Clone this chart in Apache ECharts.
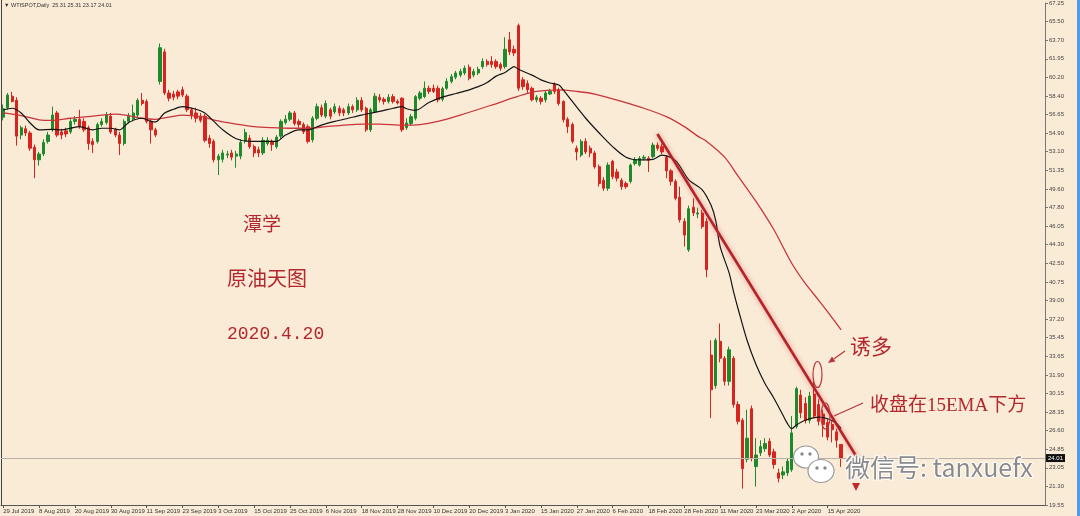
<!DOCTYPE html>
<html><head><meta charset="utf-8">
<script src="https://cdn.jsdelivr.net/npm/echarts/dist/echarts.min.js"></script>
<style>html,body{margin:0;padding:0;background:#faebd7;}#c{width:1080px;height:516px;}</style>
</head><body><div id="c"></div>
<script>
const header = '▼ WTISPOT,Daily  25.31 25.31 23.17 24.01';
const tickDates = ['29 Jul 2019','8 Aug 2019','20 Aug 2019','30 Aug 2019','11 Sep 2019','23 Sep 2019','3 Oct 2019','15 Oct 2019','25 Oct 2019','6 Nov 2019','18 Nov 2019','28 Nov 2019','10 Dec 2019','20 Dec 2019','3 Jan 2020','15 Jan 2020','27 Jan 2020','6 Feb 2020','18 Feb 2020','28 Feb 2020','11 Mar 2020','23 Mar 2020','2 Apr 2020','15 Apr 2020'];
const priceTicks = ['19.55','21.30','23.05','24.85','26.60','28.35','30.15','31.90','33.65','35.45','37.20','39.00','40.75','42.50','44.30','46.05','47.80','49.60','51.35','53.10','54.90','56.65','58.40','60.20','61.95','63.70','65.50','67.25'];
const opens = [56.4,57.3,58.4,58.0,54.7,55.3,54.9,53.55,52.35,52.9,
54.1,55.2,56.8,55.0,55.1,55.0,56.0,56.2,56.0,55.4,
54.1,54.1,55.7,55.9,56.5,55.2,54.7,53.9,56.0,56.2,
56.6,58.0,57.9,56.0,55.2,59.8,62.6,58.7,58.6,58.8,
59.0,58.4,57.1,56.8,56.5,56.5,54.4,54.1,52.35,52.4,
52.8,53.0,52.7,52.7,54.1,54.4,53.6,53.3,53.0,53.9,
54.1,53.6,54.6,55.9,56.2,56.8,56.0,55.7,55.5,54.25,
56.3,57.3,56.5,57.1,56.9,57.25,57.1,56.8,57.4,57.1,
58.0,57.25,55.2,56.9,58.3,58.1,57.9,58.35,57.9,58.2,
55.4,55.8,56.3,58.2,58.35,59.15,59.15,59.15,58.1,59.15,
59.8,60.2,60.4,60.6,61.15,60.4,60.6,61.2,61.7,61.7,
61.7,61.4,61.2,63.75,62.85,65.1,59.95,59.6,59.15,58.05,
58.2,58.05,58.6,59.5,59.0,57.9,56.2,55.7,53.45,52.8,
54.1,53.45,53.0,51.7,50.4,49.65,52.2,51.2,50.4,50.1,
50.3,52.0,51.85,52.5,52.5,52.65,53.75,53.6,52.6,51.3,
50.3,48.8,46.5,43.8,47.85,47.2,47.3,46.5,33.8,30.9,
35.1,33.5,31.3,33.5,29.1,27.6,23.9,28.7,23.2,24.5,
24.9,25.6,24.6,22.6,22.4,22.6,22.9,27.0,30.0,29.2,
27.6,30.1,29.1,28.2,27.4,27.2,26.5,25.31];
const highs = [57.6,58.7,58.8,58.3,55.6,55.6,55.1,53.8,53.1,54.3,
55.0,57.4,57.0,55.3,55.4,56.2,56.5,57.1,56.3,55.6,
54.4,55.9,56.3,56.9,56.8,55.4,55.0,56.2,56.8,57.6,
58.2,58.7,58.1,56.2,55.4,63.4,62.9,59.0,58.9,59.0,
59.3,58.6,57.3,57.3,56.8,56.7,54.7,54.3,52.9,53.3,
53.2,53.3,53.2,54.3,55.3,54.7,53.8,53.6,54.5,54.5,
54.3,54.7,56.2,56.6,57.0,57.0,56.2,55.9,55.7,56.5,
57.7,57.6,58.0,57.3,57.7,57.5,57.3,57.7,57.6,58.3,
58.3,57.4,57.3,58.7,58.6,58.3,58.6,58.6,58.1,58.3,
56.3,56.7,58.5,58.9,59.8,59.4,59.5,59.4,59.3,60.1,
60.5,60.8,61.0,61.3,61.4,61.0,61.2,62.0,61.9,62.2,
61.9,61.6,64.0,64.5,63.2,65.3,60.2,59.9,59.3,58.5,
58.4,58.9,59.1,59.7,59.2,58.0,56.4,55.9,53.7,54.3,
54.4,53.7,53.2,51.9,50.7,52.1,52.35,51.5,50.6,50.3,
52.0,52.6,52.7,52.8,52.7,54.0,54.0,53.9,52.8,51.5,
50.5,49.8,46.8,48.0,48.7,47.8,47.6,46.8,35.2,35.4,
36.8,33.7,34.6,33.7,29.4,27.8,28.6,29.0,25.9,25.7,
25.9,25.9,24.9,23.0,23.2,24.0,28.0,30.8,30.5,29.8,
30.3,31.6,29.6,28.6,27.7,27.5,26.8,25.31];
const lows = [56.1,57.1,57.8,53.7,54.3,54.6,53.2,50.6,51.8,52.7,
53.9,55.0,54.5,54.3,54.5,54.8,55.7,55.3,55.0,53.3,
53.0,53.9,55.5,55.7,54.8,54.5,52.8,53.7,55.8,56.0,
56.4,57.5,55.8,53.9,54.5,59.5,58.5,57.9,58.0,58.1,
58.3,56.9,56.2,55.9,55.9,54.0,53.5,52.1,50.9,52.1,
52.5,52.3,51.6,52.4,53.9,53.4,52.6,52.6,52.8,53.7,
53.2,53.4,54.3,55.7,56.0,55.6,55.4,54.8,53.9,54.0,
56.1,56.4,56.3,56.2,56.7,56.5,56.5,56.6,56.8,56.9,
56.9,55.0,55.0,56.8,57.8,57.6,57.7,57.7,57.6,55.0,
55.2,55.6,56.1,58.0,58.2,58.6,58.7,57.8,57.9,59.0,
59.6,60.0,60.2,60.4,59.9,60.2,60.4,61.0,61.2,61.1,
61.0,60.8,61.0,62.3,62.2,58.9,59.0,58.7,57.9,57.8,
57.6,57.8,58.5,58.6,57.5,55.9,54.9,53.9,52.3,52.6,
52.9,52.6,51.5,49.8,49.4,49.4,50.5,50.3,49.5,49.6,
50.1,51.8,51.7,52.3,51.2,52.5,53.2,52.9,50.6,49.9,
48.5,46.4,44.1,43.6,47.0,46.8,45.8,41.2,27.8,30.6,
33.1,30.9,30.9,28.8,27.2,21.1,23.6,23.7,21.3,24.2,
24.6,24.1,23.0,21.7,22.0,22.3,22.7,26.8,27.8,27.3,
27.3,27.8,27.1,26.0,25.7,25.5,25.0,23.17];
const closes = [57.2,58.5,57.9,54.6,55.4,54.9,53.45,52.35,52.9,54.0,
54.7,56.6,54.7,54.7,54.8,56.0,56.2,55.5,55.2,53.9,
53.8,55.7,56.0,56.6,55.0,54.7,53.9,56.0,56.5,56.8,
58.0,57.7,56.0,55.2,54.7,63.0,58.7,58.2,58.3,58.4,
58.5,57.1,56.6,56.3,56.1,54.2,53.9,52.35,52.7,53.0,
52.9,52.6,52.9,54.0,54.95,53.6,53.0,53.0,54.2,54.2,
53.8,54.5,56.0,56.2,56.8,55.8,55.7,55.0,54.1,56.3,
57.4,56.6,57.7,56.5,57.4,56.8,56.8,57.4,57.1,58.0,
57.1,55.2,57.1,58.4,58.05,57.9,58.3,57.9,57.75,55.2,
55.85,56.45,58.35,58.7,59.15,58.85,58.85,58.05,59.1,59.8,
60.25,60.6,60.75,61.05,60.1,60.75,60.95,61.7,61.4,61.4,
61.2,61.05,62.85,62.6,62.5,59.15,59.3,59.0,58.05,58.3,
57.9,58.7,58.85,58.85,57.7,56.15,55.5,54.1,53.1,54.1,
53.1,53.0,51.7,50.1,49.65,51.85,50.75,50.6,49.8,49.8,
51.85,52.35,52.5,52.6,52.3,53.75,53.45,53.1,51.3,50.3,
48.7,46.65,45.2,47.7,47.3,47.3,46.0,41.9,30.5,35.2,
33.5,31.3,34.3,29.1,27.5,23.0,25.9,24.0,24.3,25.1,
25.4,24.3,23.4,22.1,22.7,23.7,26.4,30.6,28.3,27.6,
29.9,28.0,27.5,27.2,26.0,26.7,25.7,24.01];
// 15 EMA (black): [bar index, price]
const emaFast = [[0,57.1],[2,57.25],[4,56.8],[6,55.85],[8,55.2],[11,55.25],[13,55.2],[15,55.35],[17,55.5],[20,55.2],[22,55.35],[24,55.35],[26,55.2],[28,55.9],[31,56.3],[33,56.0],[34,55.95],[36,56.8],[38,57.15],[40,57.4],[43,57.15],[45,56.8],[47,56.0],[49,55.2],[52,54.35],[55,54.1],[58,54.1],[61,54.1],[63,54.7],[66,55.2],[68,55.2],[71,55.65],[74,56.0],[77,56.3],[80,56.6],[84,56.95],[87,57.25],[89,57.4],[90,57.2],[92,57.05],[95,57.8],[98,58.3],[101,58.65],[104,59.0],[106,59.3],[108,59.7],[110,60.3],[112,60.65],[113,60.95],[114,61.2],[115,60.95],[118,60.4],[120,59.95],[122,59.65],[124,59.45],[125,59.0],[127,57.9],[130,56.3],[133,54.9],[136,53.6],[139,52.6],[142,52.35],[145,52.4],[147,52.8],[150,52.3],[153,50.45],[156,49.5],[158,48.0],[159,46.6],[160,44.1],[162,41.6],[163,39.8],[164,38.2],[166,35.2],[168,32.9],[170,31.1],[172,29.7],[174,28.1],[175,27.3],[176,26.8],[177,27.15],[179,27.6],[182,27.9],[184,27.75],[186,27.3],[187,26.8]];
// long EMA (red)
const emaSlow = [[0,56.8],[4,56.55],[8,56.15],[11,56.1],[15,56.3],[19,56.45],[22,56.6],[25,56.7],[28,56.55],[31,56.3],[34,56.2],[37,56.4],[40,56.6],[44,56.45],[48,56.05],[52,55.75],[56,55.5],[60,55.4],[64,55.35],[68,55.35],[72,55.5],[76,55.65],[80,55.75],[84,55.75],[89,55.65],[93,55.7],[97,56.0],[102,56.6],[109,57.55],[115,58.4],[119,58.85],[124,59.0],[128,58.85],[132,58.6],[138,57.9],[143,57.25],[148,56.45],[152,55.5],[155,54.6],[157,54.1],[161,52.6],[164,50.8],[168,48.4],[172,45.7],[176,42.5],[179,40.6],[182,39.0],[184,37.9],[187,36.2]];
const trendLine = [[146,54.8],[191,23.75]];
const lastPrice = 24.01;

const N = 233;
const cats = Array.from({length:N},(_,i)=>String(i));
const candle = opens.map((o,i)=>[o, closes[i], lows[i], highs[i]]);
const yMin = 19.55, yMax = 67.25, yStep = (yMax-yMin)/27;
const red = '#b3282e';
const serif = '"Liberation Serif","Noto Sans CJK SC",serif';
const showTick = (i)=> i%8===0 && i<=184;

function arrow(x1,y1,x2,y2,col){
  const dx=x2-x1, dy=y2-y1, L=Math.hypot(dx,dy), ux=dx/L, uy=dy/L;
  const bx=x2-ux*7, by=y2-uy*7, px=-uy*3, py=ux*3;
  return [
    {type:'line',shape:{x1:x1,y1:y1,x2:bx,y2:by},style:{stroke:col,lineWidth:1.3}},
    {type:'polygon',shape:{points:[[x2,y2],[bx+px,by+py],[bx-px,by-py]]},style:{fill:col}}
  ];
}

const chart = echarts.init(document.getElementById('c'));
chart.setOption({
  animation:false,
  backgroundColor:'#faebd7',
  grid:{left:1,right:35,top:3,bottom:11},
  xAxis:{type:'category',data:cats,boundaryGap:true,
    axisLine:{lineStyle:{color:'#555',width:1}},
    axisTick:{show:true,alignWithLabel:true,interval:showTick,length:3,lineStyle:{color:'#555'}},
    axisLabel:{interval:showTick,formatter:(v,i)=>tickDates[i/8]||'',fontSize:6,color:'#333',align:'left',margin:3,fontFamily:'Liberation Sans'},
    splitLine:{show:false}},
  yAxis:{type:'value',position:'right',min:yMin,max:yMax,interval:yStep,
    axisLine:{show:true,lineStyle:{color:'#777'}},
    axisTick:{show:true,length:3,lineStyle:{color:'#777'}},
    axisLabel:{fontSize:6,color:'#444',margin:4,fontFamily:'Liberation Sans',formatter:v=>priceTicks[Math.round((v-yMin)/yStep)]||''},
    splitLine:{show:false}},
  series:[
    {type:'candlestick',data:candle,barWidth:'62%',
      itemStyle:{color:'#1f8a2c',color0:'#d8241f',borderColor:'#1f8a2c',borderColor0:'#d8241f',borderWidth:1},
      markLine:{silent:true,symbol:['none','none'],data:[{yAxis:lastPrice}],
        lineStyle:{color:'#b9b2a8',width:1,type:'solid'},
        label:{position:'end',formatter:()=>lastPrice.toFixed(2),backgroundColor:'#111',color:'#fff',fontSize:6,padding:[1,2],distance:1}}},
    {type:'line',data:emaSlow,smooth:0.3,symbol:'none',lineStyle:{color:'#c8363b',width:1.3},z:3},
    {type:'line',data:emaFast,smooth:0.3,symbol:'none',lineStyle:{color:'#151515',width:1.2},z:4},
    {type:'line',data:trendLine,symbol:'none',lineStyle:{color:'#b3242a',width:2.6,shadowColor:'rgba(210,60,60,0.55)',shadowBlur:5},z:5}
  ],
  graphic:[
    {type:'rect',shape:{x:1077,y:0,width:3,height:516},style:{fill:'#4f9de3'}},
    {type:'line',shape:{x1:1.5,y1:0,x2:1.5,y2:505},style:{stroke:'#444',lineWidth:1}},
    {type:'text',x:4,y:5,style:{text:header,fill:'#333',font:'5.5px "Liberation Sans"',textVerticalAlign:'middle',verticalAlign:'middle'}},
    {type:'text',x:243,y:226,style:{text:'潭学',fill:red,font:'19px '+serif,textVerticalAlign:'middle',verticalAlign:'middle'}},
    {type:'text',x:227,y:281,style:{text:'原油天图',fill:red,font:'20px '+serif,textVerticalAlign:'middle',verticalAlign:'middle'}},
    {type:'text',x:227,y:334,style:{text:'2020.4.20',fill:red,font:'18px "Liberation Mono"',textVerticalAlign:'middle',verticalAlign:'middle'}},
    {type:'text',x:850,y:348,style:{text:'诱多',fill:red,font:'21px '+serif,textVerticalAlign:'middle',verticalAlign:'middle'}},
    {type:'text',x:870,y:406,style:{text:'收盘在15EMA下方',fill:red,font:'19px '+serif,textVerticalAlign:'middle',verticalAlign:'middle'}},
    {type:'ellipse',shape:{cx:817.5,cy:374.5,rx:4.5,ry:13},style:{fill:'none',stroke:'#b5393c',lineWidth:1.2},z:10},
    {type:'ellipse',shape:{cx:825.5,cy:416,rx:4.5,ry:13},style:{fill:'none',stroke:'#b5393c',lineWidth:1.2},z:10},
    ...arrow(845,351,828,363,'#b5393c'),
    {type:'line',shape:{x1:863,y1:403,x2:834,y2:416},style:{stroke:'#b5393c',lineWidth:1.3}},
    {type:'polygon',shape:{points:[[852,483],[860,483],[856,491]]},style:{fill:'#c0282e'}},
    {type:'ellipse',shape:{cx:806,cy:457,rx:12.5,ry:11},style:{fill:'#fff',stroke:'#9a9a9a',lineWidth:1.2},z:20},
    {type:'circle',shape:{cx:802,cy:454,r:1.7},style:{fill:'#888'},z:21},
    {type:'circle',shape:{cx:810,cy:454,r:1.7},style:{fill:'#888'},z:21},
    {type:'ellipse',shape:{cx:821,cy:471,rx:13,ry:11.5},style:{fill:'#fff',stroke:'#9a9a9a',lineWidth:1.2},z:22},
    {type:'circle',shape:{cx:817,cy:468,r:1.7},style:{fill:'#888'},z:23},
    {type:'circle',shape:{cx:825,cy:468,r:1.7},style:{fill:'#888'},z:23},
    {type:'text',x:845,y:467,z:24,style:{text:'微信号: tanxuefx',fill:'#8a8a8a',stroke:'#ffffff',lineWidth:2,font:'25px "Noto Sans CJK SC"',textVerticalAlign:'middle',verticalAlign:'middle'}}
  ]
});
</script></body></html>
